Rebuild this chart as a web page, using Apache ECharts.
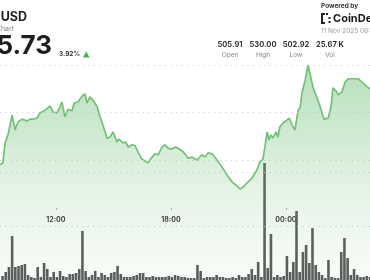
<!DOCTYPE html>
<html><head><meta charset="utf-8">
<script src="https://cdn.jsdelivr.net/npm/echarts@6/dist/echarts.min.js"></script>
<style>html,body{margin:0;padding:0;background:#fff;overflow:hidden}#c{width:370px;height:280px}</style>
</head><body><div id="c"></div>
<script>
// minutes since 00:00 on 10 Nov
const lineTimes = [545,554,561,570,583,592,601,614,630,639,648,661,670,686,702,711,723,733,739,748,758,770,777,789,802,811,817,827,836,849,858,867,880,889,899,911,917,930,939,946,958,968,977,989,999,1008,1021,1030,1040,1052,1061,1071,1083,1093,1102,1115,1124,1133,1146,1162,1177,1187,1196,1209,1224,1240,1256,1271,1287,1296,1306,1318,1334,1349,1359,1368,1374,1381,1387,1393,1399,1409,1415,1421,1431,1443,1450,1459,1468,1478,1484,1490,1500,1509,1515,1525,1537,1547,1559,1572,1581,1587,1597,1603,1615,1625,1634,1650,1666,1678,1694,1703];
const linePrices = [509.0,509.4,513.6,515.3,519.5,516.3,518.0,518.6,518.2,518.6,
518.6,518.8,519.9,520.5,521.4,520.1,519.9,521.2,522.2,519.1,
520.7,520.3,522.0,522.2,523.5,523.9,522.0,523.3,522.6,521.2,
519.1,517.4,514.6,514.8,515.9,513.8,514.4,513.6,513.8,512.7,
513.2,513.0,511.7,510.2,509.8,509.4,510.6,511.3,511.1,512.7,
513.2,512.5,512.3,512.7,512.5,511.9,511.3,510.4,510.6,510.0,
511.1,510.6,511.5,511.3,510.0,508.5,506.8,505.4,504.5,503.9,
504.3,505.2,506.2,507.9,509.6,510.2,512.7,515.9,514.2,515.3,
514.6,515.9,514.8,517.0,517.8,518.4,518.8,517.4,516.3,520.5,
521.0,524.1,526.8,530.0,528.3,525.2,523.1,521.2,518.6,518.8,
521.2,525.2,524.5,523.7,524.3,526.4,527.1,527.1,527.1,526.4,
525.4,525.0];
// 10-minute volume bars
const volStartMinute = 553;
const volStepMinutes = 10;
const volumes = [4,8,13,44,13,14,15,16,5,3,2,13,3,17,11,3,8,3,9,4,3,6,6,7,11,49,
9,3,5,9,3,7,5,3,7,8,14,6,3,3,3,4,5,7,7,3,3,4,3,3,3,3,4,3,5,4,3,3,
2,2,2,15,9,2,3,3,3,5,3,3,2,2,3,2,5,3,3,6,11,5,18,3,
117,12,46,3,5,3,4,
24,8,18,69,8,28,35,17,52,15,8,5,2,20,3,2,2,28,42,22,5,11,5,3,3,4,3];
const xTickTimes = [720,1080,1440];
const xTickLabels = ['12:00','18:00','00:00'];
const priceGridLevels = [510,520,530];
const volGridLevels = [54,108];
const statValues = ['505.91','530.00','502.92','25.67 K'];
const statLabels = ['Open','High','Low','Vol'];
const lastPrice = '525.73';
const changePct = '3.92%';

const FONT = 'Inter, "Liberation Sans", sans-serif';
const chart = echarts.init(document.getElementById('c'), null, {renderer:'canvas'});
const linePairs = lineTimes.map((t,i)=>[t, linePrices[i]]);
const volPairs = volumes.map((v,i)=>[volStartMinute + i*volStepMinutes, v]);
const xMin = 545, xMax = 1703;

const statCenters = [230,263,296,330];
const graphics = [
  {type:'text', x:27, y:17.5, style:{text:'BCH-USD', align:'right', verticalAlign:'middle', font:'bold 12.5px '+FONT, fill:'#1e1e1e'}},
  {type:'text', x:14, y:28.5, style:{text:'BCH Chart', align:'right', verticalAlign:'middle', font:'7px '+FONT, fill:'#888'}},
  {type:'text', x:52, y:46.5, style:{text:lastPrice, align:'right', verticalAlign:'middle', font:'bold 26px '+FONT, fill:'#1e1e1e'}},
  {type:'text', x:59, y:54.5, style:{text:changePct, align:'left', verticalAlign:'middle', font:'bold 6.5px '+FONT, fill:'#333'}},
  {type:'polygon', shape:{points:[[83,57.5],[89.5,57.5],[86.25,51.5]]}, style:{fill:'#45b04f'}},
  {type:'text', x:321, y:6.5, style:{text:'Powered by', align:'left', verticalAlign:'middle', font:'bold 6.5px '+FONT, fill:'#333'}},
  {type:'polyline', shape:{points:[[325,14],[322,14],[322,23],[325,23]]}, style:{stroke:'#222', lineWidth:2, fill:null}},
  {type:'rect', shape:{x:326,y:13,width:2,height:2}, style:{fill:'#222'}},
  {type:'rect', shape:{x:328.5,y:17,width:2,height:2}, style:{fill:'#222'}},
  {type:'rect', shape:{x:328.5,y:21,width:2,height:2}, style:{fill:'#222'}},
  {type:'text', x:333, y:19, style:{text:'CoinDesk', align:'left', verticalAlign:'middle', font:'bold 11px '+FONT, fill:'#1a1a1a'}},
  {type:'text', x:321, y:31.5, style:{text:'11 Nov 2025 06:00 UTC', align:'left', verticalAlign:'middle', font:'6.5px '+FONT, fill:'#999'}}
];
statValues.forEach((s,i)=>{
  graphics.push({type:'text', x:statCenters[i], y:45, style:{text:s, align:'center', verticalAlign:'middle', font:'bold 7.5px '+FONT, fill:'#333'}});
  graphics.push({type:'text', x:statCenters[i], y:55.5, style:{text:statLabels[i], align:'center', verticalAlign:'middle', font:'6.5px '+FONT, fill:'#888'}});
});

const dotted = {color:'#c4c4c4', width:1, type:[1,4.5]};

chart.setOption({
  animation:false,
  backgroundColor:'#fff',
  grid:[
    {left:0,right:0,top:0,bottom:0},
    {left:0,right:0,top:0,bottom:0},
    {left:0,right:0,top:200,height:8}
  ],
  xAxis:[
    {type:'value', gridIndex:0, min:xMin, max:xMax, show:false},
    {type:'value', gridIndex:1, min:xMin, max:xMax, show:false},
    {type:'value', gridIndex:2, min:xMin, max:xMax, axisLine:{show:false}, splitLine:{show:false},
      axisTick:{show:true, length:2, lineStyle:{color:'#aaa'}, customValues:xTickTimes},
      axisLabel:{margin:8, fontSize:7, fontWeight:'bold', color:'#333', fontFamily:FONT, customValues:xTickTimes,
        formatter:(v)=>xTickLabels[xTickTimes.indexOf(v)]}}
  ],
  yAxis:[
    {type:'value', gridIndex:0, min:484.74, max:543.68, show:false},
    {type:'value', gridIndex:1, min:0, max:280, show:false},
    {type:'value', gridIndex:2, show:false}
  ],
  series:[
    {type:'line', xAxisIndex:0, yAxisIndex:0, data:linePairs, symbol:'none', smooth:false,
      lineStyle:{color:'#74c078', width:1.7},
      areaStyle:{color:new echarts.graphic.LinearGradient(0,0,0,1,[
        {offset:0,color:'rgba(112,192,118,0.72)'},
        {offset:0.6,color:'rgba(112,192,118,0.25)'},
        {offset:1,color:'rgba(112,192,118,0.06)'}])},
      markLine:{silent:true, symbol:'none', label:{show:false}, lineStyle:dotted,
        data:priceGridLevels.map(v=>({yAxis:v}))}
    },
    {type:'bar', xAxisIndex:1, yAxisIndex:1, data:volPairs, barWidth:2.6,
      itemStyle:{color:'#595959'},
      markLine:{silent:true, symbol:'none', label:{show:false}, lineStyle:dotted,
        data:volGridLevels.map(v=>({yAxis:v}))}
    }
  ],
  graphic:graphics
});
</script></body></html>
